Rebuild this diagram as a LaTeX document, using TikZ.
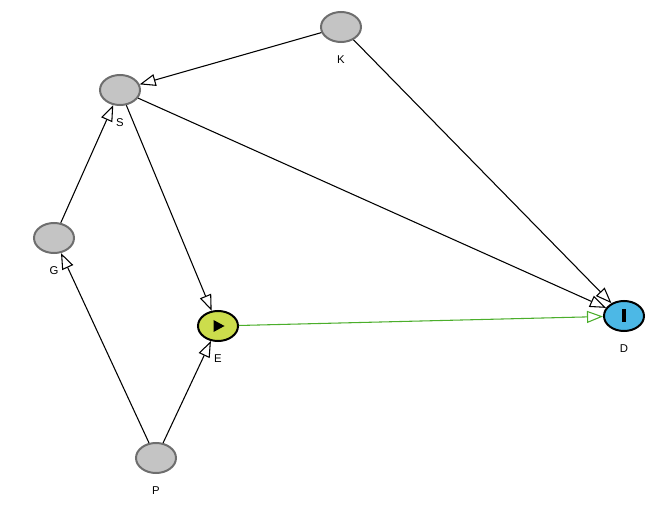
\documentclass[tikz,border=0pt]{standalone}
\usepackage{fontspec}
\setsansfont{Liberation Sans}
\usetikzlibrary{shapes.geometric,arrows.meta}

\definecolor{varfill}{HTML}{C4C4C4}
\definecolor{varline}{HTML}{6E6E6E}
\definecolor{expfill}{HTML}{CCDD4C}
\definecolor{outfill}{HTML}{4CB8E6}
\definecolor{causal}{HTML}{4BAE2B}

\tikzset{
  var/.style={ellipse, draw=varline, fill=varfill, line width=1.5pt,
    minimum width=30pt, minimum height=22.5pt, inner sep=0pt,
    label={[lbl, label distance=8pt]below:#1}},
  expo/.style={var=#1, draw=black, fill=expfill},
  outc/.style={var=#1, draw=black, fill=outfill},
  lbl/.style={font=\sffamily\fontsize{8.5}{10}\selectfont, inner sep=1pt},
  edge/.style={draw=black, line width=0.8pt,
    -{Triangle[open, length=12pt, width=9pt, fill=white]}},
  caus/.style={edge, draw=causal}
}

\begin{document}
\begin{tikzpicture}[x=0.75pt, y=-0.75pt]
  \useasboundingbox (0,0) rectangle (669,517);

  % Variables
  \node[var=K]  (K) at (341,27)  {};
  \node[var=S]  (S) at (120,90)  {};
  \node[var=G]  (G) at (54,238)  {};
  \node[expo=E] (E) at (218,326) {};
  \node[outc=D] (D) at (624,316) {};
  \node[var=P]  (P) at (156,458) {};

  % Icons
  \fill ([shift={(-4.5,-6)}]E.center) -- ++(11,6) -- ++(-11,6) -- cycle; % exposure
  \fill ([shift={(-2,-6.5)}]D.center) rectangle ++(4,13);                % outcome

  % Arrows
  \draw[edge] (K) -- (S);
  \draw[edge] (K) -- (D);
  \draw[edge] (S) -- (D);
  \draw[edge] (S) -- (E);
  \draw[edge] (G) -- (S);
  \draw[edge] (P) -- (G);
  \draw[edge] (P) -- (E);
  \draw[caus] (E) -- (D);
\end{tikzpicture}
\end{document}
